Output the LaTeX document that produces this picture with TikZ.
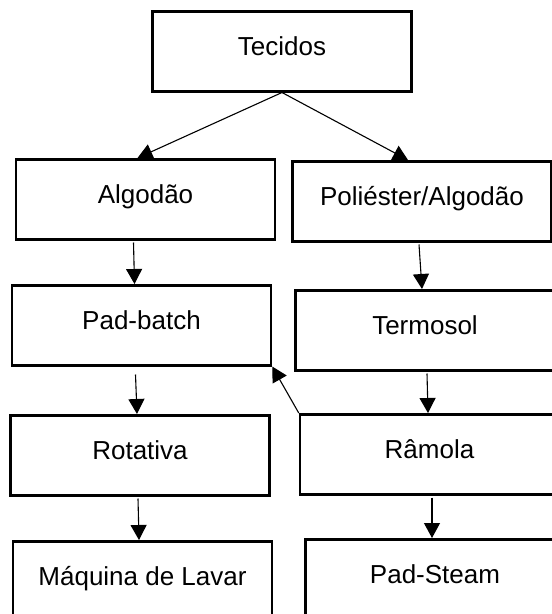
\documentclass[tikz,border=0pt]{standalone}
\usepackage{fontspec}
\setmainfont{Liberation Sans}
\usetikzlibrary{arrows.meta,calc}

\begin{document}
\begin{tikzpicture}[x=1pt,y=-1pt,
	caixa/.style={draw, line width=2.5pt, inner sep=0pt, minimum width=259pt,
		text height=44pt, text depth=36pt, anchor=north, font=\fontsize{26}{31}\selectfont},
	seta/.style={-{Triangle[length=15pt,width=16pt]}, line width=1.1pt}]
	%%%%% START %%%%%
	\path[use as bounding box, clip] (0,0) rectangle (552,614);
	
	\node[caixa] (tecidos) at (282,10) {Tecidos};
	
	\node[caixa] (algodao) at (145.5,158) {Algodão};
	\node[caixa] (poliester) at (422,160) {Poliéster/Algodão};
	
	\node[caixa] (padbatch) at (141.5,284) {Pad-batch};
	\node[caixa] (termosol) at (425,289) {Termosol};
	
	\node[caixa] (rotativa) at (140,414) {Rotativa};
	\node[caixa] (ramola) at (429.5,413) {Râmola};
	
	\node[caixa] (maquina) at (142.5,540) {Máquina de Lavar};
	\node[caixa] (padsteam) at (435,538) {Pad-Steam};
	
	\draw[seta] (tecidos.south) -- ($(algodao.north)+(-8,0)$);
	\draw[seta] (tecidos.south) -- ($(poliester.north)+(-14,0)$);
	
	\draw[seta] ($(algodao.south)+(-12,2)$) -- ($(padbatch.north)+(-7,0)$);
	\draw[seta] ($(poliester.south)+(-3,2)$) -- ($(termosol.north)+(-3,0)$);
	
	\draw[seta] ($(padbatch.south)+(-6,8)$) -- ($(rotativa.north)+(-3,0)$);
	\draw[seta] ($(termosol.south)+(2,2)$) -- ($(ramola.north)+(-1.5,0)$);
	\draw[seta] (ramola.north west) -- (padbatch.south east);
	
	\draw[seta] ($(rotativa.south)+(-2,2)$) -- ($(maquina.north)+(-3.5,0)$);
	\draw[seta] ($(ramola.south)+(2.5,2)$) -- ($(padsteam.north)+(-3,0)$);
	%%%%% END %%%%%
\end{tikzpicture}
\end{document}
